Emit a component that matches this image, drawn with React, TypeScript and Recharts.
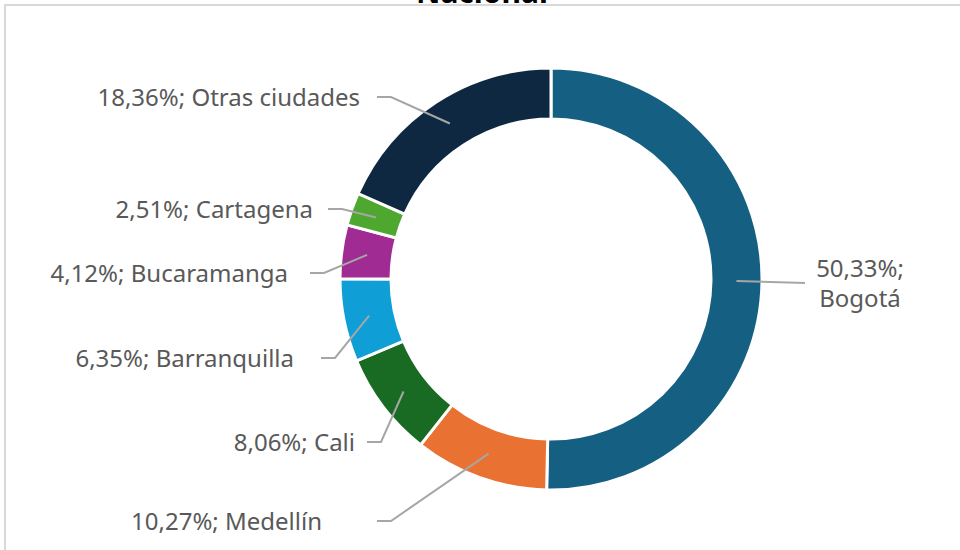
import React from "react";
import { PieChart, Pie, Cell } from "recharts";

const cities = ["Bogotá", "Medellín", "Cali", "Barranquilla", "Bucaramanga", "Cartagena", "Otras ciudades"];
const shares = [50.33, 10.27, 8.06, 6.35, 4.12, 2.51, 18.36];
const colors = ["#156082", "#E97132", "#196B24", "#0F9ED5", "#A02B93", "#4EA72E", "#0E2841"];

// label placement, Excel-style manual: text anchor x, baseline y, leader line start x
const labelSpots: [number, number, number][] = [
  [860, 277, 805],
  [322, 530, 377],
  [355, 451, 367],
  [294, 367, 321],
  [288, 282, 310],
  [313, 218, 328],
  [360, 106, 377],
];

const data = cities.map((name, i) => ({ name, value: shares[i] }));

const RADIAN = Math.PI / 180;
const fmt = (v: number) => v.toFixed(2).replace(".", ",") + "%";

// eslint-disable-next-line @typescript-eslint/no-explicit-any
const renderLabel = (props: any) => {
  const { cx, cy, midAngle, innerRadius, outerRadius, index } = props;
  const r = (innerRadius + outerRadius) / 2;
  const sx = cx + Math.cos(-midAngle * RADIAN) * r;
  const sy = cy + Math.sin(-midAngle * RADIAN) * r;
  const [tx, ty, lx] = labelSpots[index];
  const text = `${fmt(shares[index])}; ${cities[index]}`;
  const style = { fontFamily: "'Noto Sans', sans-serif", fontSize: 24, fill: "#595959" };

  if (index === 0) {
    // Bogotá: two-line label to the right
    return (
      <g>
        <polyline points={`${sx},${sy} ${lx},${sy + 2}`} stroke="#a6a6a6" strokeWidth={2} fill="none" />
        <text x={tx} y={ty} textAnchor="middle" {...style}>
          {fmt(shares[index]) + ";"}
        </text>
        <text x={tx} y={ty + 30} textAnchor="middle" {...style}>
          {cities[index]}
        </text>
      </g>
    );
  }
  const ly = ty - 9;
  return (
    <g>
      <polyline points={`${lx},${ly} ${lx + 14},${ly} ${sx},${sy}`} stroke="#a6a6a6" strokeWidth={2} fill="none" />
      <text x={tx} y={ty} textAnchor="end" {...style}>
        {text}
      </text>
    </g>
  );
};

const App: React.FC = () => {
  return (
    <div style={{ position: "relative", width: 960, height: 550, background: "#fff" }}>
      <style>{"body{margin:0}"}</style>
      <div
        style={{
          position: "absolute",
          left: 4,
          top: 4,
          width: 956,
          height: 546,
          borderTop: "2px solid #d9d9d9",
          borderLeft: "2px solid #d9d9d9",
        }}
      />
      <PieChart
        width={960}
        height={550}
        margin={{ top: 0, right: 0, bottom: 0, left: 0 }}
        style={{ position: "absolute", left: 0, top: 0 }}
      >
        <text
          x={482}
          y={3}
          textAnchor="middle"
          style={{ fontFamily: "'Noto Sans', sans-serif", fontSize: 30, fontWeight: 700, fill: "#000" }}
        >
          Nacional
        </text>
        <Pie
          data={data}
          dataKey="value"
          nameKey="name"
          cx={551}
          cy={279}
          innerRadius={160}
          outerRadius={211}
          startAngle={90}
          endAngle={-270}
          stroke="#ffffff"
          strokeWidth={3}
          label={renderLabel}
          labelLine={false}
          isAnimationActive={false}
        >
          {data.map((d, i) => (
            <Cell key={d.name} fill={colors[i]} />
          ))}
        </Pie>
      </PieChart>
    </div>
  );
};

export default App;
